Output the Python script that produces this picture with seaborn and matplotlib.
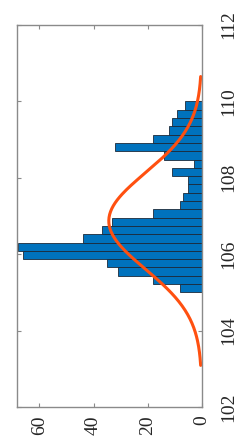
import numpy as np
import pandas as pd
import matplotlib
matplotlib.use("Agg")
import matplotlib.pyplot as plt
import seaborn as sns

# ---- data ----
bin_start = 105.0
bin_end = 110.0
counts = [8, 18, 31, 35, 66, 68, 44, 37, 33, 18, 8, 7, 5, 5, 11, 3, 14, 32, 18, 12, 11, 9, 6]
fit_mu = 106.87
fit_sigma = 1.26
value_ticks = [102, 104, 106, 108, 110, 112]
count_ticks = [0, 20, 40, 60]

sns.set_style("white")
plt.rcParams["font.family"] = ["Liberation Serif", "DejaVu Serif"]

edges = np.linspace(bin_start, bin_end, len(counts) + 1)
centers = (edges[:-1] + edges[1:]) / 2
df = pd.DataFrame({"value": centers, "count": counts})

fig = plt.figure(figsize=(2.47, 4.46), dpi=100)
ax = fig.add_axes([0.0676, 0.0874, 0.7490, 0.8566])

sns.histplot(data=df, y="value", weights="count", bins=len(counts),
             binrange=(bin_start, bin_end), ax=ax,
             color="#0072BD", alpha=1.0, edgecolor="#1c2a3a", linewidth=0.6)

# normal fit curve (histfit style, scaled by n * bin width)
n = sum(counts)
bw = edges[1] - edges[0]
xs = np.linspace(fit_mu - 3 * fit_sigma, fit_mu + 3 * fit_sigma, 200)
pdf = n * bw * np.exp(-0.5 * ((xs - fit_mu) / fit_sigma) ** 2) / (fit_sigma * np.sqrt(2 * np.pi))
curve = pd.DataFrame({"v": xs, "c": pdf})
sns.lineplot(data=curve, x="c", y="v", sort=False, orient="y", ax=ax,
             color="#FF5010", linewidth=2.2)

ax.set_xlim(68.4, 0)
ax.set_ylim(102, 112)
ax.set_xticks(count_ticks)
ax.set_yticks(value_ticks)
ax.set_xlabel("")
ax.set_ylabel("")

for s in ax.spines.values():
    s.set_color("#8a8a8a")
    s.set_linewidth(1.0)

ax.tick_params(axis="y", left=True, right=True, labelleft=False, labelright=True,
               direction="in", length=3, width=0.8, color="#8a8a8a",
               labelsize=14, labelcolor="#262626", pad=13, labelrotation=90)
ax.tick_params(axis="x", top=True, bottom=True, labeltop=False, labelbottom=True,
               direction="in", length=3, width=0.8, color="#8a8a8a",
               labelsize=14, labelcolor="#262626", pad=6, labelrotation=90)
for lab in ax.get_yticklabels():
    lab.set_va("center")
    lab.set_ha("left")
for lab in ax.get_xticklabels():
    lab.set_ha("center")
    lab.set_va("top")

fig.savefig("out.png", dpi=100)
